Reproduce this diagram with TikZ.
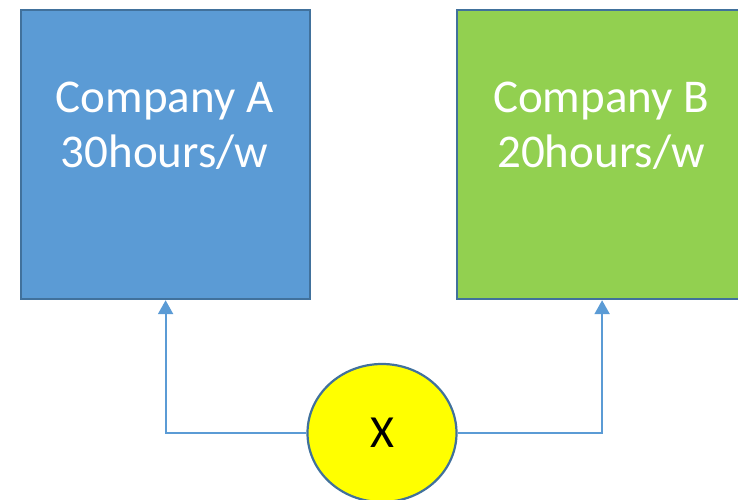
\documentclass[tikz,border=0pt]{standalone}
\usepackage{fontspec}
\setmainfont{Carlito}
\usetikzlibrary{arrows.meta,shapes.geometric}
\definecolor{boxblue}{HTML}{5B9BD5}
\definecolor{boxgreen}{HTML}{92D050}
\definecolor{edgeblue}{HTML}{41719C}
\definecolor{lineblue}{HTML}{5B9BD5}
\definecolor{xyellow}{HTML}{FFFF00}
\tikzset{
  company/.style={draw=edgeblue, line width=2.2pt, minimum width=289pt, minimum height=289pt, inner sep=0pt, anchor=north west},
  companytext/.style={text=white, align=center, font=\fontsize{47}{55}\selectfont, inner sep=0pt, anchor=north},
  xnode/.style={ellipse, draw=edgeblue, line width=2.2pt, fill=xyellow, minimum width=149pt, minimum height=138pt, inner sep=0pt, font=\fontsize{46}{55}\selectfont},
  conn/.style={draw=lineblue, line width=2.2pt, -{Triangle[length=14pt,width=15pt]}}
}
\begin{document}
\begin{tikzpicture}[x=1pt,y=-1pt]
\useasboundingbox (0,0) rectangle (738,500);
\clip (0,0) rectangle (738,500);
\node[company, fill=boxblue] (boxA) at (20,9) {};
\node[company, fill=boxgreen, minimum width=290pt] (boxB) at (456,9) {};
\node[companytext] (textA) at (164.5,82) {Company A\\30hours/w};
\node[companytext] (textB) at (601,82) {Company B\\20hours/w};
\node[xnode] (x) at (382,433) {X};
\draw[conn] (x.west) -| (boxA.south);
\draw[conn] (x.east) -| (boxB.south);
\end{tikzpicture}
\end{document}
